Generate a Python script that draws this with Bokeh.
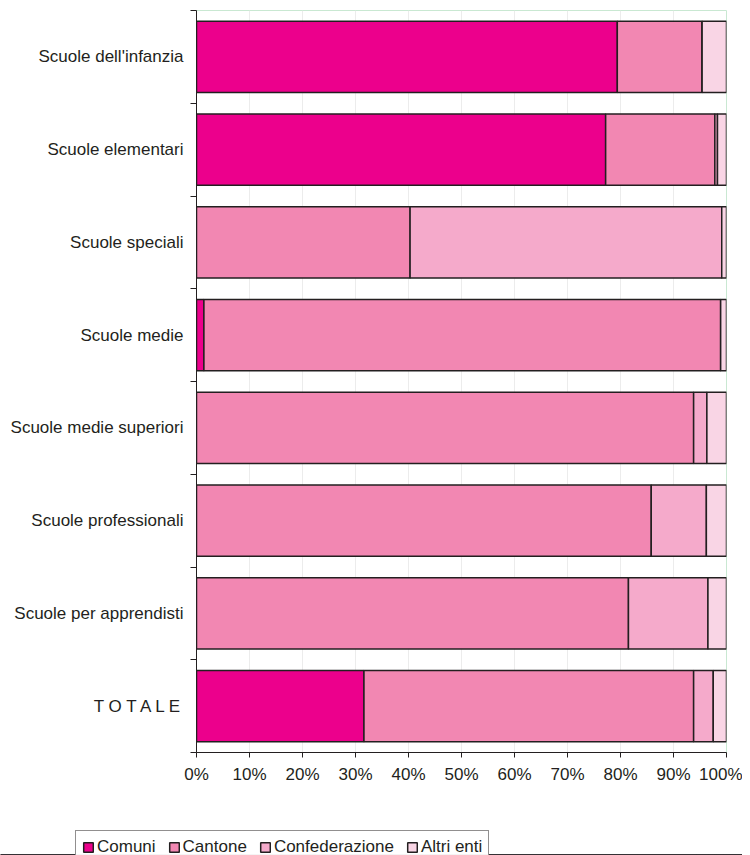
from bokeh.plotting import figure
from bokeh.layouts import column, row
from bokeh.models import ColumnDataSource, FixedTicker, PrintfTickFormatter, Legend
from bokeh.embed import file_html
from bokeh.resources import INLINE

categories = ["Scuole dell'infanzia", "Scuole elementari", "Scuole speciali", "Scuole medie",
              "Scuole medie superiori", "Scuole professionali", "Scuole per apprendisti", "T O T A L E"]
series = ["Comuni", "Cantone", "Confederazione", "Altri enti"]
comuni = [79.4, 77.2, 0.0, 1.4, 0.0, 0.0, 0.0, 31.6]
cantone = [16.0, 20.6, 40.3, 97.5, 93.8, 85.8, 81.5, 62.2]
confederazione = [0.0, 0.5, 58.8, 0.0, 2.5, 10.4, 15.0, 3.7]
altri_enti = [4.6, 1.7, 0.9, 1.1, 3.7, 3.8, 3.5, 2.5]
colors = ["#EC008C", "#F287B2", "#F5AACB", "#F9D5E5"]
x_ticks = [0, 10, 20, 30, 40, 50, 60, 70, 80, 90, 100]

n = len(categories)
ypos = [n - i - 0.5 for i in range(n)]
source = ColumnDataSource(dict(y=ypos, Comuni=comuni, Cantone=cantone,
                               Confederazione=confederazione, **{"Altri enti": altri_enti}))

FONT = "Liberation Sans"
TXT = "#231F20"
FS = "17px"

p = figure(width=742, height=790, output_backend="svg", toolbar_location=None,
           x_range=(0, 100), y_range=(0, n),
           min_border_left=196, min_border_right=16, min_border_top=10, min_border_bottom=38)

p.hbar_stack(series, y="y", height=0.77, color=colors, source=source,
             line_color=TXT, line_width=1.5)

# x axis
p.xaxis.ticker = FixedTicker(ticks=x_ticks)
p.xaxis.formatter = PrintfTickFormatter(format="%d%%")
p.xaxis.major_label_text_font = FONT
p.xaxis.major_label_text_font_size = FS
p.xaxis.major_label_text_color = TXT
p.xaxis.axis_line_color = TXT
p.xaxis.major_tick_line_color = TXT
p.xaxis.major_tick_out = 5
p.xaxis.major_tick_in = 0
p.xaxis.minor_tick_line_color = None
p.xaxis.major_label_standoff = 7

# y axis
p.yaxis.ticker = FixedTicker(ticks=ypos, minor_ticks=list(range(n + 1)))
p.yaxis.major_label_overrides = {y: c for y, c in zip(ypos, categories)}
p.yaxis.major_label_text_font = FONT
p.yaxis.major_label_text_font_size = FS
p.yaxis.major_label_text_color = TXT
p.yaxis.axis_line_color = TXT
p.yaxis.major_tick_line_color = None
p.yaxis.major_tick_out = 0
p.yaxis.major_tick_in = 0
p.yaxis.minor_tick_line_color = TXT
p.yaxis.minor_tick_out = 6
p.yaxis.minor_tick_in = 0
p.yaxis.major_label_standoff = 7

p.xgrid.grid_line_color = "#ececec"
p.ygrid.grid_line_color = None
p.outline_line_color = "#c9e8d2"
p.background_fill_color = "white"
p.border_fill_color = "white"

# legend strip (same data, drawn out of view so only the legend shows)
lg = figure(width=742, height=65, output_backend="svg", toolbar_location=None,
            x_range=(0, 100), y_range=(100, 101), x_axis_location=None, y_axis_location=None,
            min_border_left=0, min_border_right=0, min_border_top=0, min_border_bottom=0)
lg.grid.grid_line_color = None
lg.outline_line_color = None
lg.background_fill_color = "white"
lg.border_fill_color = "white"
lr = lg.hbar_stack(series, y="y", height=0.77, color=colors, source=source,
                   line_color=TXT, line_width=1.5)

legend = Legend(items=[(s, [r]) for s, r in zip(series, lr)], orientation="horizontal")
legend.label_text_font = FONT
legend.label_text_font_size = FS
legend.label_text_color = TXT
legend.glyph_width = 12
legend.glyph_height = 12
legend.label_standoff = 3
legend.spacing = 12
legend.padding = 6
legend.margin = 0
legend.border_line_color = TXT
legend.border_line_width = 1
legend.label_height = 12
legend.location = (75, -9)
lg.add_layout(legend, "center")

layout = column(p, row(lg), spacing=0)
open("out.html", "w").write(file_html(layout, INLINE))
